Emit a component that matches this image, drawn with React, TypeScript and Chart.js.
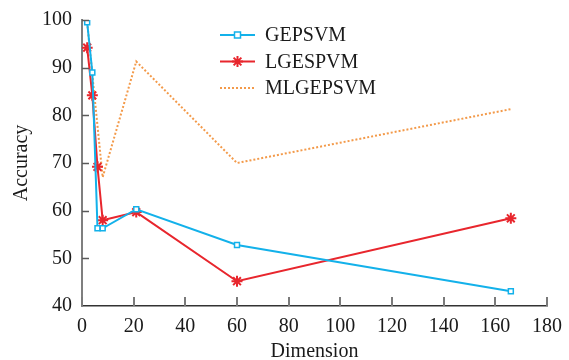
import React, { useEffect, useRef } from "react";
import { Chart, registerables } from "chart.js";

Chart.register(...registerables);

const dimensions = [2, 4, 6, 8, 21, 60, 166];
const gepsvm = [99.5, 89, 56.3, 56.3, 60.3, 52.8, 43.1];
const lgespvm = [94.2, 84.2, 69.2, 58.0, 59.7, 45.2, 58.4];
const mlgepsvm = [99.5, 88.5, 77.8, 67.0, 91.3, 70.0, 81.3];
const seriesNames = ["GEPSVM", "LGESPVM", "MLGEPSVM"];
const xTickValues = [0, 20, 40, 60, 80, 100, 120, 140, 160, 180];
const yTickValues = [40, 50, 60, 70, 80, 90, 100];

const FONT = "'Liberation Serif', 'Times New Roman', serif";
const BLUE = "#13b1ea";
const RED = "#e8262d";
const ORANGE = "#f39a4a";

const toPoints = (ys: number[]) => dimensions.map((x, i) => ({ x, y: ys[i] }));

const inwardTicks = {
  id: "inwardTicks",
  afterDraw(chart: any) {
    const { ctx, chartArea } = chart;
    const xs = chart.scales.x;
    const ys = chart.scales.y;
    ctx.save();
    ctx.strokeStyle = "#7a7a7a";
    ctx.lineWidth = 2;
    xs.ticks.forEach((t: any) => {
      const px = Math.round(xs.getPixelForValue(t.value));
      ctx.beginPath();
      ctx.moveTo(px, chartArea.bottom);
      ctx.lineTo(px, chartArea.bottom - 9);
      ctx.stroke();
    });
    ctx.strokeStyle = "#5a5a5a";
    ctx.lineWidth = 1.5;
    ys.ticks.forEach((t: any) => {
      if (t.value === 40) return;
      const py = Math.round(ys.getPixelForValue(t.value)) + 0.5;
      ctx.beginPath();
      ctx.moveTo(chartArea.left, py);
      ctx.lineTo(chartArea.left + 7, py);
      ctx.stroke();
    });
    ctx.restore();
  },
};

function drawMarker(ctx: any, style: string, r: number, x: number, y: number, fill: string, stroke: string, lw: number) {
  ctx.save();
  ctx.lineWidth = lw;
  ctx.strokeStyle = stroke;
  ctx.fillStyle = fill;
  ctx.beginPath();
  if (style === "rect") {
    ctx.rect(x - r, y - r, 2 * r, 2 * r);
    ctx.fill();
    ctx.stroke();
  } else if (style === "star") {
    for (let k = 0; k < 4; k++) {
      const a = (k * Math.PI) / 4;
      ctx.moveTo(x + Math.cos(a) * r, y + Math.sin(a) * r);
      ctx.lineTo(x - Math.cos(a) * r, y - Math.sin(a) * r);
    }
    ctx.stroke();
  }
  ctx.restore();
}

const customLegend = {
  id: "customLegend",
  afterDraw(chart: any) {
    const { ctx, chartArea } = chart;
    const x0 = chartArea.left + 138;
    const y0 = chartArea.top + 15;
    const rowH = 26.5;
    ctx.save();
    chart.data.datasets.forEach((ds: any, i: number) => {
      const y = y0 + i * rowH;
      ctx.beginPath();
      ctx.strokeStyle = ds.borderColor;
      ctx.lineWidth = ds.borderWidth;
      ctx.setLineDash(ds.borderDash || []);
      ctx.moveTo(x0, y);
      ctx.lineTo(x0 + 35, y);
      ctx.stroke();
      ctx.setLineDash([]);
      if (ds.pointRadius > 0) {
        drawMarker(ctx, ds.pointStyle, ds.pointStyle === "rect" ? 3 : ds.pointRadius, x0 + 17.5, y, ds.pointBackgroundColor, ds.pointBorderColor, ds.pointBorderWidth);
      }
      ctx.fillStyle = "#1a1a1a";
      ctx.font = `20px ${FONT}`;
      ctx.textBaseline = "middle";
      ctx.textAlign = "left";
      ctx.fillText(ds.label, x0 + 45, y + 1);
    });
    ctx.restore();
  },
};

export default function App() {
  const ref = useRef<HTMLCanvasElement | null>(null);
  useEffect(() => {
    document.body.style.margin = "0";
    const canvas = ref.current!;
    const chart = new Chart(canvas, {
      type: "line",
      data: {
        datasets: [
          {
            label: seriesNames[0],
            data: toPoints(gepsvm),
            borderColor: BLUE,
            borderWidth: 2,
            pointStyle: "rect",
            pointRadius: 3.5,
            pointBorderWidth: 1.5,
            pointBackgroundColor: "#ffffff",
            pointBorderColor: BLUE,
            tension: 0,
          },
          {
            label: seriesNames[1],
            data: toPoints(lgespvm),
            borderColor: RED,
            borderWidth: 2,
            pointStyle: "star",
            pointRadius: 5.5,
            pointBorderWidth: 2,
            pointBackgroundColor: RED,
            pointBorderColor: RED,
            tension: 0,
          },
          {
            label: seriesNames[2],
            data: toPoints(mlgepsvm),
            borderColor: ORANGE,
            borderWidth: 2,
            borderDash: [2, 2],
            pointRadius: 0,
            pointBorderWidth: 0,
            tension: 0,
          },
        ],
      },
      options: {
        responsive: false,
        animation: false,
        layout: { padding: { left: 0, right: 22, top: 20, bottom: 0 } },
        plugins: {
          legend: { display: false },
          tooltip: { enabled: false },
        },
        scales: {
          x: {
            type: "linear",
            min: 0,
            max: 180,
            afterBuildTicks: (s: any) => {
              s.ticks = xTickValues.map((v) => ({ value: v }));
            },
            afterFit: (s: any) => {
              s.height = 54;
            },
            grid: { display: false },
            border: { display: true, color: "#333333", width: 1.5 },
            ticks: {
              color: "#1a1a1a",
              font: { family: FONT, size: 20 },
              padding: 1,
              maxRotation: 0,
              autoSkip: false,
            },
            title: {
              display: true,
              text: "Dimension",
              color: "#1a1a1a",
              font: { family: FONT, size: 20 },
              padding: { top: 0, bottom: -4 },
            },
          },
          y: {
            min: 40,
            max: 100,
            afterBuildTicks: (s: any) => {
              s.ticks = yTickValues.map((v) => ({ value: v }));
            },
            afterFit: (s: any) => {
              s.width = 82;
            },
            grid: { display: false },
            border: { display: true, color: "#7f7f7f", width: 2 },
            ticks: {
              color: "#1a1a1a",
              font: { family: FONT, size: 20 },
              padding: 2,
              autoSkip: false,
            },
            title: {
              display: true,
              text: "Accuracy",
              color: "#1a1a1a",
              font: { family: FONT, size: 20 },
              padding: { top: 10, bottom: 0 },
            },
          },
        },
      },
      plugins: [inwardTicks, customLegend],
    });
    return () => chart.destroy();
  }, []);
  return <canvas ref={ref} width={569} height={360} style={{ display: "block" }} />;
}
